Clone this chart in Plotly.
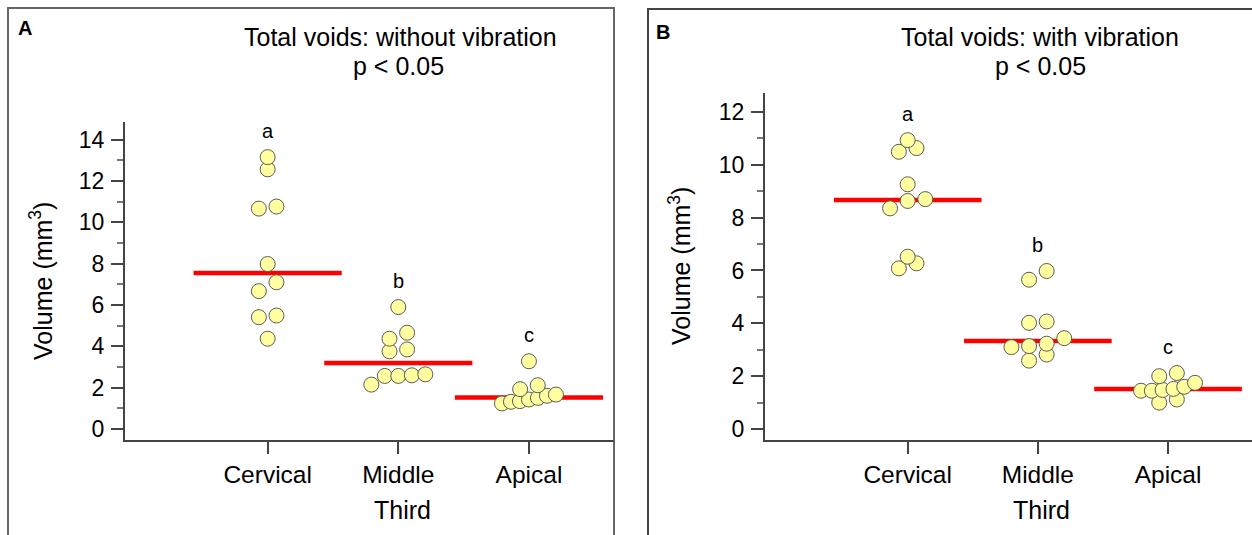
import numpy as np
import plotly.graph_objects as go

# ---------------- data ----------------
categories = ["Cervical", "Middle", "Apical"]
group_letters = ["a", "b", "c"]

a_cervical = [13.15, 12.56, 10.76, 10.66, 7.98, 7.10, 6.67, 5.49, 5.41, 4.37]
a_middle = [5.90, 4.66, 4.37, 3.85, 3.76, 2.65, 2.60, 2.57, 2.57, 2.15]
a_apical = [3.28, 2.12, 1.93, 1.67, 1.61, 1.51, 1.43, 1.35, 1.32, 1.24]
a_medians = [7.55, 3.20, 1.53]

b_cervical = [10.93, 10.63, 10.49, 9.26, 8.70, 8.63, 8.35, 6.52, 6.27, 6.08]
b_middle = [5.98, 5.65, 4.07, 4.02, 3.44, 3.23, 3.14, 3.10, 2.82, 2.59]
b_apical = [2.12, 2.00, 1.75, 1.60, 1.52, 1.48, 1.45, 1.45, 1.12, 1.00]
b_medians = [8.67, 3.33, 1.52]

a_yticks = [0, 2, 4, 6, 8, 10, 12, 14]
b_yticks = [0, 2, 4, 6, 8, 10, 12]

title_a = "Total voids: without vibration"
title_b = "Total voids: with vibration"
p_text = "p &lt; 0.05"
y_title = "Volume (mm<sup>3</sup>)"
x_title = "Third"

# ---------------- layout geometry ----------------
W, H = 1252, 535
FONT = "Liberation Sans, Arial, sans-serif"

def fx(px):
    return px / W

def fy(py):
    return 1 - py / H

panels = {
    "A": dict(x0=125, x1=614, y_top=122, y_bot=441.7,
              xr=[-1.092, 2.651], yr=[-0.53, 14.87]),
    "B": dict(x0=765, x1=1252, y_top=93.3, y_bot=441.7,
              xr=[-1.096, 2.645], yr=[-0.415, 12.716]),
}
for p in panels.values():
    p["ppc"] = (p["x1"] - p["x0"]) / (p["xr"][1] - p["xr"][0])
    p["ppu"] = (p["y_bot"] - p["y_top"]) / (p["yr"][1] - p["yr"][0])


def swarm(values, ppu, ppc, span_px=11.0, gap_px=17.6, max_width_px=54.0):
    vals = sorted(values)
    rows = []
    for v in vals:
        if rows and (v - rows[-1][0]) * ppu <= span_px:
            rows[-1].append(v)
        else:
            rows.append([v])
    offs, ys = [], []
    for row in rows:
        k = len(row)
        s = gap_px if k < 2 else min(gap_px, max_width_px / (k - 1))
        for i, v in enumerate(row):
            offs.append((i - (k - 1) / 2) * s / ppc)
            ys.append(v)
    return offs, ys


fig = go.Figure()

LINE_HALF = 0.567
dot_fill = "rgb(255,255,160)"
dot_edge = "rgb(90,90,90)"

sets = [
    ("A", "x", "y", [a_cervical, a_middle, a_apical], a_medians),
    ("B", "x2", "y2", [b_cervical, b_middle, b_apical], b_medians),
]

annotations = []
for name, xa, ya, groups, meds in sets:
    p = panels[name]
    for i, m in enumerate(meds):
        fig.add_trace(go.Scatter(
            x=[i - LINE_HALF, i + LINE_HALF], y=[m, m], mode="lines",
            line=dict(color="#ff0000", width=4.5), xaxis=xa, yaxis=ya,
            showlegend=False, hoverinfo="skip"))
    for i, g in enumerate(groups):
        offs, ys = swarm(g, p["ppu"], p["ppc"])
        fig.add_trace(go.Scatter(
            x=[i + o for o in offs], y=ys, mode="markers",
            marker=dict(size=15, color=dot_fill,
                        line=dict(color=dot_edge, width=1)),
            xaxis=xa, yaxis=ya, showlegend=False, cliponaxis=False))
        annotations.append(dict(
            x=i, y=max(g), xref=xa, yref=ya, text=group_letters[i],
            showarrow=False, yshift=26, yanchor="middle",
            font=dict(family=FONT, size=20, color="black")))

axis_common = dict(showline=True, linecolor="#444", linewidth=2,
                   ticks="outside", ticklen=12, tickwidth=2, tickcolor="#444",
                   showgrid=False, zeroline=False, fixedrange=True)

for name, xk, yk in [("A", "xaxis", "yaxis"), ("B", "xaxis2", "yaxis2")]:
    p = panels[name]
    yticks = a_yticks if name == "A" else b_yticks
    minor_vals = [v + 1 for v in yticks[:-1]]
    if p["yr"][1] > yticks[-1] + 1:
        minor_vals.append(yticks[-1] + 1)
    fig.layout[xk] = dict(
        axis_common, domain=[fx(p["x0"]), fx(p["x1"])], range=p["xr"],
        tickmode="array", tickvals=list(range(len(categories))),
        ticktext=categories, anchor=yk.replace("axis", ""),
        tickfont=dict(family=FONT, size=24.5, color="black"),
        ticklabelstandoff=0)
    fig.layout[yk] = dict(
        axis_common, domain=[fy(p["y_bot"]), fy(p["y_top"])], range=p["yr"],
        tickmode="array", tickvals=yticks, anchor=xk.replace("axis", ""),
        tickfont=dict(family=FONT, size=23, color="black"),
        minor=dict(tickmode="array", tickvals=minor_vals,
                   ticklen=6, tickwidth=1.5, tickcolor="#777", ticks="outside"),
        ticklabelstandoff=2)

text_font = dict(family=FONT, size=25, color="black")
annotations += [
    dict(x=fx(400.5), y=fy(37), text=title_a),
    dict(x=fx(398), y=fy(66), text=p_text),
    dict(x=fx(1040), y=fy(37), text=title_b),
    dict(x=fx(1040), y=fy(66), text=p_text),
    dict(x=fx(402), y=fy(512), text=x_title),
    dict(x=fx(1041), y=fy(512), text=x_title),
    dict(x=fx(41), y=fy(282), text=y_title, textangle=-90),
    dict(x=fx(680), y=fy(267), text=y_title, textangle=-90),
]
for ann in annotations[-8:]:
    ann.update(xref="paper", yref="paper", showarrow=False,
               xanchor="center", yanchor="middle", font=text_font)

annotations += [
    dict(x=fx(16), y=fy(28), text="<b>A</b>", xref="paper", yref="paper",
         showarrow=False, xanchor="left", yanchor="middle",
         font=dict(family=FONT, size=20, color="black")),
    dict(x=fx(654), y=fy(32), text="<b>B</b>", xref="paper", yref="paper",
         showarrow=False, xanchor="left", yanchor="middle",
         font=dict(family=FONT, size=20, color="black")),
]

shapes = [
    dict(type="rect", xref="paper", yref="paper", x0=fx(8), x1=fx(614),
         y0=-0.05, y1=fy(8), line=dict(color="#666", width=2), layer="below"),
    dict(type="rect", xref="paper", yref="paper", x0=fx(648), x1=fx(1262),
         y0=-0.05, y1=fy(9), line=dict(color="#444", width=2), layer="below"),
]

fig.update_layout(
    width=W, height=H, margin=dict(l=0, r=0, t=0, b=0),
    paper_bgcolor="white", plot_bgcolor="rgba(0,0,0,0)",
    annotations=annotations, shapes=shapes, showlegend=False,
    font=dict(family=FONT))

fig.write_html("out.html", config={"displayModeBar": False})
